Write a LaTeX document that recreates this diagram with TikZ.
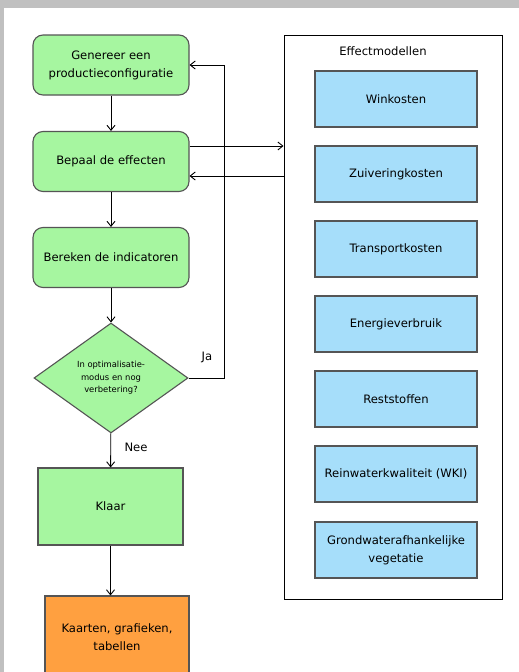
\documentclass[tikz,border=0pt]{standalone}
\usepackage{fontspec}
\setmainfont{DejaVu Sans}
\usetikzlibrary{shapes.geometric,arrows.meta}
\definecolor{bggray}{RGB}{192,192,192}
\definecolor{flgreen}{RGB}{166,246,160}
\definecolor{florange}{RGB}{255,160,64}
\definecolor{flblue}{RGB}{166,222,250}
\definecolor{edgegray}{RGB}{85,85,85}
\tikzset{
  x=1pt, y=-1pt,
  base/.style={draw=edgegray, line width=1.1pt, text=black, align=center, inner sep=2pt,
    font=\fontsize{11.6}{18}\selectfont},
  greenround/.style={base, fill=flgreen, rounded corners=10pt, minimum width=156pt, minimum height=60pt},
  greenrect/.style={base, fill=flgreen, minimum width=145pt, minimum height=77pt},
  orangerect/.style={base, fill=florange, minimum width=144pt, minimum height=82pt},
  bluerect/.style={base, fill=flblue, minimum width=162pt, minimum height=56pt},
  decision/.style={base, fill=flgreen, diamond, inner sep=0pt, minimum width=154pt, minimum height=110pt,
    font=\fontsize{8.4}{12.5}\selectfont},
  container/.style={draw=black, line width=0.9pt, fill=white, minimum width=218pt, minimum height=564pt},
  arr/.style={draw=black, line width=0.9pt, -{Straight Barb[length=5pt,width=8pt]}},
  lbl/.style={font=\fontsize{11.6}{14}\selectfont, text=black}
}
\begin{document}
\begin{tikzpicture}
\useasboundingbox (0,0) rectangle (519,672);
\fill[white] (0,0) rectangle (519,672);
\fill[bggray] (0,0) rectangle (519,8);
\fill[bggray] (0,0) rectangle (4,672);
\begin{scope}
\clip (4,8) rectangle (519,672);
% container
\node[container] (em) at (393,317) {};
\node[lbl, anchor=center] (emt) at (383,51) {Effectmodellen};
\node[bluerect] (m1) at (396,99) {Winkosten};
\node[bluerect] (m2) at (396,174) {Zuiveringkosten};
\node[bluerect] (m3) at (396,249) {Transportkosten};
\node[bluerect] (m4) at (396,324) {Energieverbruik};
\node[bluerect] (m5) at (396,399) {Reststoffen};
\node[bluerect] (m6) at (396,474) {Reinwaterkwaliteit (WKI)};
\node[bluerect] (m7) at (396,550) {Grondwaterafhankelijke\\vegetatie};
% flow
\node[greenround] (b1) at (111,65) {Genereer een\\productieconfiguratie};
\node[greenround] (b2) at (111,161.5) {Bepaal de effecten};
\node[greenround] (b3) at (111,257.5) {Bereken de indicatoren};
\node[decision] (d) at (111,378) {In optimalisatie-\\modus en nog\\verbetering?};
\node[greenrect] (k) at (110.5,506.5) {Klaar};
\node[orangerect] (o) at (117,637) {Kaarten, grafieken,\\tabellen};
\draw[arr] (b1) -- (b2);
\draw[arr] (b2) -- (b3);
\draw[arr] (b3) -- (d);
\draw[arr] (d) -- node[lbl, right, pos=0.4, xshift=10pt] (nee) {Nee} (k);
\draw[arr] (k.south) -- (k.south |- o.north);
\draw[arr] (d.east) -- ++(36,0) |- (b1.east);
\node[lbl] (ja) at (207,357) {Ja};
\draw[arr] ([yshift=15.5pt]b2.east) -- ([yshift=15.5pt]b2.east -| em.west);
\draw[arr] ([yshift=-14.5pt]b2.east -| em.west) -- ([yshift=-14.5pt]b2.east);
\end{scope}
\end{tikzpicture}
\end{document}
